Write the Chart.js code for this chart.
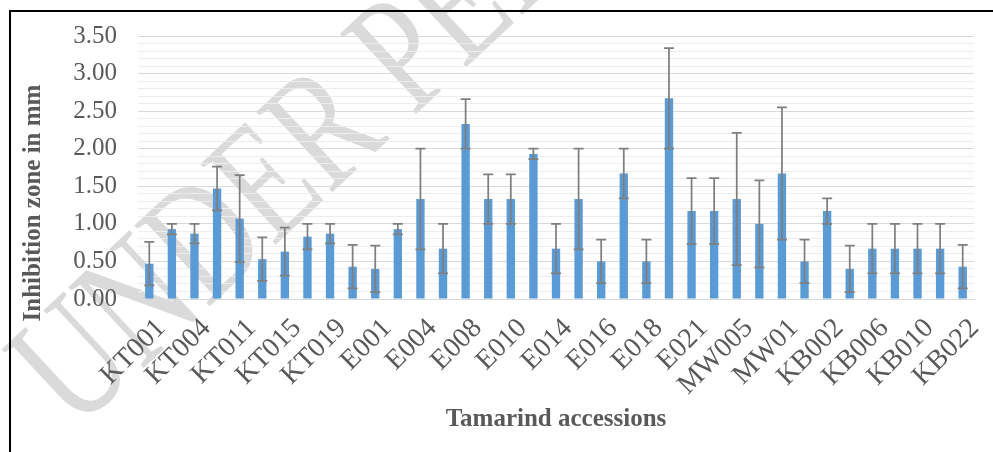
<!DOCTYPE html>
<html lang="en">
<head>
  <meta charset="UTF-8">
  <title>Inhibition zone of tamarind accessions</title>
  <script src="https://cdn.jsdelivr.net/npm/chart.js"></script>
  <style>
    body {
      margin: 0;
      background: #fff;
    }
    canvas {
      display: block;
    }
  </style>
</head>
<body>
  <canvas id="chart" width="993" height="452"></canvas>

  <script>
    // Accessions (only every second one is labelled on the axis)
    const accessions = [
      'KT001', 'KT003', 'KT004', 'KT006', 'KT011', 'KT012', 'KT015', 'KT017', 'KT019', 'KT021',
      'E001', 'E003', 'E004', 'E006', 'E008', 'E009', 'E010', 'E012', 'E014', 'E015',
      'E016', 'E017', 'E018', 'E020', 'E021', 'MW003', 'MW005', 'MW007', 'MW01', 'KB001',
      'KB002', 'KB004', 'KB006', 'KB008', 'KB010', 'KB015', 'KB022'
    ];
    // Mean inhibition zone (mm)
    const inhibition = [
      0.47, 0.93, 0.87, 1.47, 1.07, 0.53, 0.63, 0.83, 0.87, 0.43,
      0.40, 0.93, 1.33, 0.67, 2.33, 1.33, 1.33, 1.93, 0.67, 1.33,
      0.50, 1.67, 0.50, 2.67, 1.17, 1.17, 1.33, 1.00, 1.67, 0.50,
      1.17, 0.40, 0.67, 0.67, 0.67, 0.67, 0.43
    ];
    // Error bar half-lengths
    const errors = [
      0.29, 0.07, 0.13, 0.29, 0.58, 0.29, 0.32, 0.17, 0.13, 0.29,
      0.31, 0.07, 0.67, 0.33, 0.33, 0.33, 0.33, 0.07, 0.33, 0.67,
      0.29, 0.33, 0.29, 0.67, 0.44, 0.44, 0.88, 0.58, 0.88, 0.29,
      0.17, 0.31, 0.33, 0.33, 0.33, 0.33, 0.29
    ];
    const yMax = 3.5;
    const majorStep = 0.5;
    const minorStep = 0.1;
    const xAxisTitle = 'Tamarind accessions';
    const yAxisTitle = 'Inhibition zone in mm';

    const serif = '"Liberation Serif", "Times New Roman", serif';
    const textGrey = '#595959';

    const isMajor = v => Math.abs(v / majorStep - Math.round(v / majorStep)) < 1e-6;

    // light diagonal watermark behind everything (tall letters like the scan)
    const watermark = {
      id: 'watermark',
      beforeDraw(chart) {
        const ctx = chart.ctx;
        ctx.save();
        ctx.translate(75, 432);
        ctx.rotate(-43 * Math.PI / 180);
        ctx.scale(1, 1.35);
        ctx.font = '125px ' + serif;
        ctx.fillStyle = '#DADADA';
        ctx.fillText('UNDER PEER REVIEW', 0, 0);
        ctx.restore();
      }
    };

    // vertical error bars with caps
    const errorBars = {
      id: 'errorBars',
      afterDatasetsDraw(chart) {
        const ctx = chart.ctx;
        const y = chart.scales.y;
        const meta = chart.getDatasetMeta(0);
        ctx.save();
        ctx.strokeStyle = '#7F7F7F';
        ctx.lineWidth = 1.75;
        meta.data.forEach((bar, i) => {
          const top = y.getPixelForValue(inhibition[i] + errors[i]);
          const bot = y.getPixelForValue(inhibition[i] - errors[i]);
          const x = bar.x;
          ctx.beginPath();
          ctx.moveTo(x, top); ctx.lineTo(x, bot);
          ctx.moveTo(x - 5, top); ctx.lineTo(x + 5, top);
          ctx.moveTo(x - 5, bot); ctx.lineTo(x + 5, bot);
          ctx.stroke();
        });
        ctx.restore();
      }
    };

    // y title sits lower than the plot centre in the original
    const yTitle = {
      id: 'yTitle',
      afterDraw(chart) {
        const ctx = chart.ctx;
        ctx.save();
        ctx.translate(34, 203);
        ctx.rotate(-Math.PI / 2);
        ctx.font = 'bold 25px ' + serif;
        ctx.fillStyle = textGrey;
        ctx.textAlign = 'center';
        ctx.textBaseline = 'middle';
        ctx.fillText(yAxisTitle, 0, 0);
        ctx.restore();
      }
    };

    // black frame on the left and top edges
    const frame = {
      id: 'frame',
      afterDraw(chart) {
        const ctx = chart.ctx;
        ctx.save();
        ctx.strokeStyle = '#000';
        ctx.lineWidth = 2;
        ctx.beginPath();
        ctx.moveTo(10, chart.height);
        ctx.lineTo(10, 11);
        ctx.lineTo(chart.width, 11);
        ctx.stroke();
        ctx.restore();
      }
    };

    new Chart(document.getElementById('chart'), {
      type: 'bar',
      data: {
        labels: accessions,
        datasets: [{
          label: yAxisTitle,
          data: inhibition,
          backgroundColor: '#5B9BD5',
          barPercentage: 0.37,
          categoryPercentage: 1
        }]
      },
      options: {
        responsive: false,
        animation: false,
        layout: {
          padding: { top: 36, right: 19, bottom: 0, left: 0 }
        },
        plugins: {
          legend: { display: false },
          tooltip: { enabled: false }
        },
        scales: {
          x: {
            grid: { display: false, drawTicks: false },
            border: { color: '#D9D9D9' },
            ticks: {
              autoSkip: false,
              minRotation: 45,
              maxRotation: 45,
              padding: 13,
              labelOffset: 12,
              color: textGrey,
              font: { family: serif, size: 28 },
              callback: (value, index) => index % 2 === 0 ? accessions[index] : ''
            },
            title: {
              display: true,
              text: xAxisTitle,
              color: textGrey,
              font: { family: serif, size: 25, weight: 'bold' },
              padding: { top: 4, bottom: 17 }
            },
            afterFit(scale) {
              scale.height = 153;
              scale.paddingLeft = 0;
              scale.paddingRight = 0;
            }
          },
          y: {
            min: 0,
            max: yMax,
            border: { display: false },
            grid: {
              drawTicks: false,
              color: c => isMajor(c.tick.value) ? '#D9D9D9' : '#EDEDED',
              lineWidth: 1
            },
            ticks: {
              stepSize: minorStep,
              maxTicksLimit: 100,
              autoSkip: false,
              padding: 21,
              color: textGrey,
              font: { family: serif, size: 25 },
              callback: v => isMajor(v) ? v.toFixed(2) : ''
            },
            afterFit(scale) {
              scale.width = 138;
              scale.paddingTop = 0;
              scale.paddingBottom = 0;
            }
          }
        }
      },
      plugins: [watermark, errorBars, yTitle, frame]
    });
  </script>
</body>
</html>
